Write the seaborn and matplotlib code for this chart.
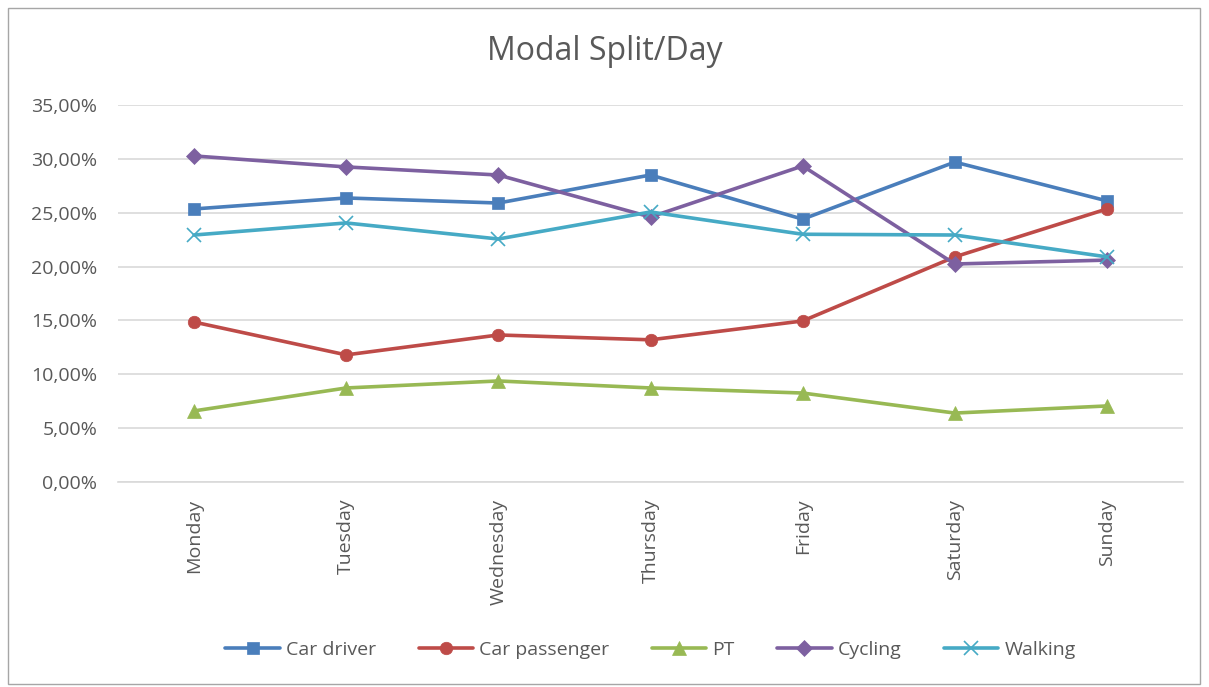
import matplotlib
matplotlib.use("Agg")
import matplotlib.pyplot as plt
from matplotlib.patches import Rectangle
from matplotlib.ticker import FuncFormatter, MultipleLocator
import seaborn as sns

# ---------------------------------------------------------------------------
# Data (share of trips per mode, per weekday)
# ---------------------------------------------------------------------------
DAYS = ["Monday", "Tuesday", "Wednesday", "Thursday", "Friday", "Saturday", "Sunday"]
MODES = ["Car driver", "Car passenger", "PT", "Cycling", "Walking"]

car_driver = [0.2535, 0.2637, 0.2590, 0.2850, 0.2440, 0.2970, 0.2610]
car_passenger = [0.1485, 0.1180, 0.1365, 0.1320, 0.1495, 0.2090, 0.2535]
pt = [0.0660, 0.0873, 0.0938, 0.0873, 0.0826, 0.0640, 0.0706]
cycling = [0.3027, 0.2925, 0.2850, 0.2460, 0.2934, 0.2024, 0.2060]
walking = [0.2293, 0.2405, 0.2256, 0.2507, 0.2300, 0.2293, 0.2090]

SERIES = [car_driver, car_passenger, pt, cycling, walking]
COLORS = ["#4A7EBB", "#BE4B48", "#98B954", "#7D60A0", "#46AAC5"]
MARKERS = ["s", "o", "^", "D", "x"]
MSIZES = [9, 9, 10, 8, 10]
TEXT = "#595959"

sns.set_theme(style="white")
plt.rcParams["font.family"] = ["Open Sans", "DejaVu Sans"]

fig = plt.figure(figsize=(12.09, 6.87), dpi=100)
ax = fig.add_axes([118 / 1209, 1 - 482 / 687, (1183 - 118) / 1209, (482 - 105) / 687])

x = list(range(len(DAYS)))
for name, vals, c, m, ms in zip(MODES, SERIES, COLORS, MARKERS, MSIZES):
    sns.lineplot(x=x, y=vals, ax=ax, color=c, marker=m, markersize=ms,
                 markeredgecolor=c, markeredgewidth=1.2 if m == "x" else 0.5,
                 linewidth=2.6, label=name)

ax.set_xlim(-0.5, 6.5)
ax.set_ylim(0, 0.35)
ax.yaxis.set_major_locator(MultipleLocator(0.05))
ax.yaxis.set_major_formatter(FuncFormatter(lambda v, _: f"{v * 100:.2f}%".replace(".", ",")))
ax.set_xticks(x)
ax.set_xticklabels(DAYS, rotation=90)
ax.tick_params(axis="both", length=0, labelsize=14, labelcolor=TEXT)
ax.tick_params(axis="y", pad=15)
ax.tick_params(axis="x", pad=12)
ax.set_xlabel("")
ax.set_ylabel("")
ax.grid(axis="y", color="#D9D9D9", linewidth=1.2)
ax.set_axisbelow(True)
for s in ("top", "right", "left"):
    ax.spines[s].set_visible(False)
ax.spines["bottom"].set_color("#D9D9D9")
ax.spines["bottom"].set_linewidth(1.2)

fig.text(0.5, 1 - 52 / 687, "Modal Split/Day", ha="center", va="center",
         fontsize=23, color=TEXT)

handles, labels = ax.get_legend_handles_labels()
ax.legend(handles, labels, loc="center", bbox_to_anchor=(0.5, (482 - 650) / (482 - 105)),
          ncol=5, frameon=False, fontsize=14, labelcolor=TEXT,
          handlelength=2.8, handletextpad=0.3, columnspacing=2.2)

fig.patches.append(Rectangle((8 / 1209, 0.005), 1192 / 1209, 1 - 0.005 - 8 / 687,
                             transform=fig.transFigure, fill=False,
                             edgecolor="#A6A6A6", linewidth=1))

fig.savefig("out.png", dpi=100)
